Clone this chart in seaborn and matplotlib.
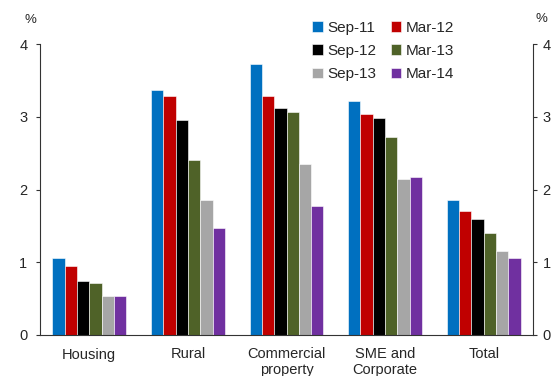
import matplotlib
matplotlib.use("Agg")
import matplotlib.pyplot as plt
import seaborn as sns
import pandas as pd
import numpy as np

categories = ["Housing", "Rural", "Commercial\nproperty", "SME and\nCorporate", "Total"]
periods = ["Sep-11", "Mar-12", "Sep-12", "Mar-13", "Sep-13", "Mar-14"]

sep11 = [1.06, 3.37, 3.73, 3.22, 1.85]
mar12 = [0.95, 3.28, 3.28, 3.04, 1.70]
sep12 = [0.74, 2.95, 3.12, 2.98, 1.59]
mar13 = [0.71, 2.41, 3.06, 2.72, 1.40]
sep13 = [0.53, 1.85, 2.35, 2.15, 1.16]
mar14 = [0.53, 1.47, 1.77, 2.17, 1.06]

colors = ["#0070C0", "#C00000", "#000000", "#4F6228", "#A6A6A6", "#7030A0"]

series = [sep11, mar12, sep12, mar13, sep13, mar14]
rows = []
for p, vals in zip(periods, series):
    for c, v in zip(categories, vals):
        rows.append({"category": c, "period": p, "value": v})
df = pd.DataFrame(rows)

sns.set_style("white")
plt.rcParams["font.family"] = ["Liberation Sans", "DejaVu Sans"]
plt.rcParams["font.size"] = 10.5

fig = plt.figure(figsize=(5.55, 3.76), dpi=100)
ax = fig.add_axes([40 / 555, 1 - 335 / 376, 493 / 555, 291 / 376])

sns.barplot(data=df, x="category", y="value", hue="period", order=categories,
            hue_order=periods, palette=colors, saturation=1, width=0.75, ax=ax,
            edgecolor="white", linewidth=0.4, errorbar=None, legend=True)

ax.set_xlim(-0.5, len(categories) - 0.5)
ax.set_ylim(0, 4)
ax.set_yticks([0, 1, 2, 3, 4])
ax.set_xlabel("")
ax.set_ylabel("")

# category labels centred, separator ticks between categories
ax.set_xticks(range(len(categories)))
ax.set_xticklabels(categories, fontsize=10.5, linespacing=1.1)
ax.tick_params(axis="x", which="major", length=0, pad=9)
ax.set_xticks(np.arange(-0.5, len(categories)), minor=True)
ax.tick_params(axis="x", which="minor", length=4, width=0.8, color="#333333", direction="out")
ax.tick_params(axis="y", length=3, width=0.8, color="#333333", direction="out", labelsize=10.5, pad=6)

for side in ["top", "right"]:
    ax.spines[side].set_visible(False)
for side in ["left", "bottom"]:
    ax.spines[side].set_color("#333333")
    ax.spines[side].set_linewidth(0.8)

ax2 = ax.twinx()
ax2.set_ylim(0, 4)
ax2.set_yticks([0, 1, 2, 3, 4])
ax2.tick_params(axis="y", length=3, width=0.8, color="#333333", direction="out", labelsize=10.5, pad=4)
for side in ["top", "left", "bottom"]:
    ax2.spines[side].set_visible(False)
ax2.spines["right"].set_color("#333333")
ax2.spines["right"].set_linewidth(0.8)

fig.text(30 / 555, 1 - 20 / 376, "%", ha="center", va="center", fontsize=9.5)
fig.text(541 / 555, 1 - 19 / 376, "%", ha="center", va="center", fontsize=9.5)

# legend laid out row by row: matplotlib fills columns first, so reorder
handles, labels = ax.get_legend_handles_labels()
ax.get_legend().remove()
order = [0, 2, 4, 1, 3, 5]
fig.legend([handles[i] for i in order], [labels[i] for i in order], ncol=2,
           frameon=False, loc="upper left",
           bbox_to_anchor=(312 / 555, 1 - 21 / 376), fontsize=11,
           handlelength=0.7, handleheight=0.7, handletextpad=0.3,
           columnspacing=0.95, labelspacing=0.6, borderaxespad=0, borderpad=0)

fig.savefig("out.png", dpi=100)
